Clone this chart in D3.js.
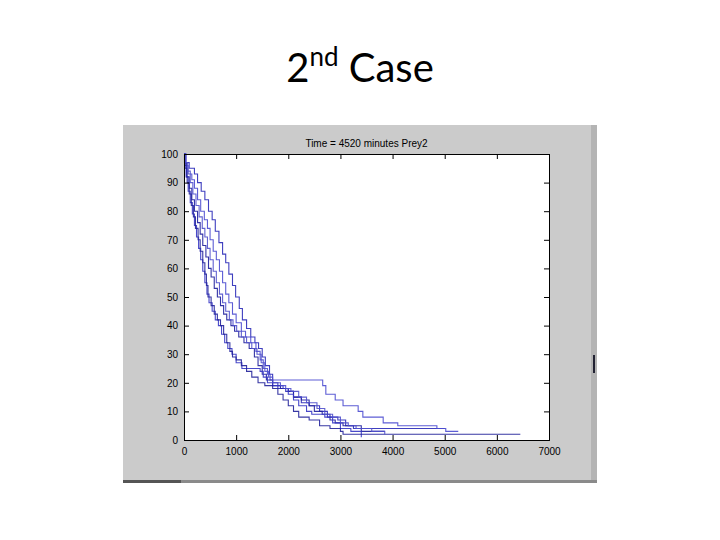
<!DOCTYPE html>
<html>
<head>
<meta charset="utf-8">
<script src="https://cdnjs.cloudflare.com/ajax/libs/d3/7.8.5/d3.min.js"></script>
<style>
  html, body { margin: 0; padding: 0; background: #ffffff; }
  svg { display: block; }
</style>
</head>
<body>
<svg id="chart" width="720" height="540"></svg>
<script>
// ---------- data ----------
const slideTitleMain = "2";
const slideTitleSup = "nd";
const slideTitleRest = " Case";
const plotTitle = "Time = 4520 minutes Prey2";
const xTicks = [0, 1000, 2000, 3000, 4000, 5000, 6000, 7000];
const yTicks = [0, 10, 20, 30, 40, 50, 60, 70, 80, 90, 100];

const run1 = [[0,100],[40,97],[100,95],[200,93],[260,90],[330,87],[400,84],[470,80],[540,77],[600,73],[670,69],[740,65],[800,62],[860,58],[930,54],[990,50],[1060,46],[1120,42],[1200,39],[1280,36],[1360,34],[1430,32],[1500,29],[1560,26],[1640,23],[1700,20],[1800,18],[1950,17],[2100,15],[2250,13],[2400,12],[2600,10],[2750,8],[2950,7],[3100,5],[3250,4],[5000,4]];
const run2 = [[0,100],[20,96],[80,93],[150,91],[200,88],[260,84],[320,80],[390,77],[450,74],[500,70],[560,66],[620,63],[680,59],[740,55],[800,51],[860,48],[930,44],[1000,41],[1100,38],[1180,36],[1280,34],[1380,31],[1460,28],[1520,25],[1600,23],[1650,21],[2620,21],[2660,19],[2720,16],[2900,14],[3050,12],[3340,10],[3430,8],[3820,6],[4100,5],[4850,4],[5020,3],[5260,3]];
const run3 = [[0,100],[10,97],[50,92],[100,88],[150,84],[200,80],[260,76],[310,72],[360,68],[420,64],[470,60],[520,57],[580,53],[640,50],[700,47],[760,44],[820,42],[900,40],[970,38],[1050,36],[1150,34],[1250,32],[1350,29],[1420,26],[1500,23],[1580,21],[1700,19],[1850,18],[2000,17],[2100,15],[2250,14],[2400,12],[2500,10],[2650,9],[2800,7],[2900,6],[3050,5],[3300,5],[3400,3],[3850,3]];
const run4 = [[0,100],[15,96],[40,92],[80,87],[120,83],[160,79],[200,75],[240,71],[280,67],[320,63],[360,59],[400,55],[440,51],[480,48],[540,45],[600,42],[660,40],[720,37],[780,34],[840,32],[920,30],[1000,27],[1110,25],[1460,24],[1520,22],[1600,20],[1700,19],[1900,18],[2000,16],[2100,14],[2200,12],[2350,10],[2450,9],[2700,8],[2850,6],[3000,4],[3200,3],[3400,1]];
const run5 = [[0,100],[20,95],[60,90],[100,86],[140,82],[180,78],[220,74],[270,70],[310,66],[360,62],[400,58],[430,54],[460,50],[520,47],[580,44],[640,42],[700,40],[760,37],[820,34],[880,31],[930,29],[1000,28],[1100,26],[1200,24],[1300,22],[1420,20],[1550,19],[1700,18],[1800,16],[1900,14],[2000,12],[2100,10],[2200,8],[2400,7],[2600,5],[2800,4],[3000,3],[3050,2],[6450,2]];
const run6 = [[0,100],[30,97],[70,94],[120,90],[170,86],[230,82],[290,78],[350,74],[400,71],[450,67],[500,63],[560,59],[620,55],[680,51],[740,48],[800,45],[870,42],[940,40],[1010,38],[1100,36],[1200,34],[1300,32],[1400,30],[1480,27],[1550,24],[1620,22],[1700,20],[1850,19],[1950,18],[2050,17],[2200,15],[2350,13],[2550,11],[2700,9],[2850,8],[3000,6],[3150,5],[3300,4],[3600,3],[3850,2]];

const runs = [run1, run2, run3, run4, run5, run6];
const runColors = ["#2a2ab8", "#4b4bd0", "#1e1e9c", "#3535c4", "#22229a", "#5050cc"];

// ---------- drawing ----------
const svg = d3.select("#chart");

// slide title
const title = svg.append("text")
  .attr("x", 360).attr("y", 82)
  .attr("text-anchor", "middle")
  .attr("font-family", "Lato, 'Open Sans', sans-serif")
  .attr("font-size", 40)
  .attr("fill", "#000");
title.append("tspan").text(slideTitleMain);
title.append("tspan").attr("dy", -16).attr("font-size", 26).text(slideTitleSup);
title.append("tspan").attr("dy", 16).text(slideTitleRest);

// figure window panel
svg.append("rect").attr("x", 123).attr("y", 125).attr("width", 474).attr("height", 358).attr("fill", "#cbcbcb");
svg.append("rect").attr("x", 591).attr("y", 125).attr("width", 6).attr("height", 358).attr("fill", "#b4b4b4");
svg.append("rect").attr("x", 123).attr("y", 480).attr("width", 474).attr("height", 3).attr("fill", "#8a8a8a");
svg.append("rect").attr("x", 123).attr("y", 480).attr("width", 58).attr("height", 3).attr("fill", "#555");
svg.append("rect").attr("x", 593).attr("y", 355).attr("width", 2).attr("height", 18).attr("fill", "#223");

const margin = {left: 184, top: 154, right: 549, bottom: 440};
const x = d3.scaleLinear().domain([0, 7000]).range([margin.left, margin.right]);
const y = d3.scaleLinear().domain([0, 100]).range([margin.bottom, margin.top]);

// plot area
svg.append("rect")
  .attr("x", x(0)).attr("y", y(100))
  .attr("width", x(7000) - x(0)).attr("height", y(0) - y(100))
  .attr("fill", "#fff");

// lines
const line = d3.line().x(d => x(d[0])).y(d => y(d[1])).curve(d3.curveStepAfter);
const g = svg.append("g");
runs.forEach((r, i) => {
  g.append("path")
    .attr("d", line(r))
    .attr("fill", "none")
    .attr("stroke", runColors[i])
    .attr("stroke-width", 1.1)
    .attr("opacity", 0.9);
});

// axes (MATLAB-style inward ticks)
const font = "'Liberation Sans', Arial, sans-serif";
const xAxis = svg.append("g").attr("transform", `translate(0,${y(0)})`)
  .call(d3.axisBottom(x).tickValues(xTicks).tickSize(-5).tickPadding(8).tickFormat(d3.format("d")));
const yAxis = svg.append("g").attr("transform", `translate(${x(0)},0)`)
  .call(d3.axisLeft(y).tickValues(yTicks).tickSize(-5).tickPadding(6).tickFormat(d3.format("d")));
const xTop = svg.append("g").attr("transform", `translate(0,${y(100)})`)
  .call(d3.axisTop(x).tickValues(xTicks).tickSize(-5).tickFormat(""));
const yRight = svg.append("g").attr("transform", `translate(${x(7000)},0)`)
  .call(d3.axisRight(y).tickValues(yTicks).tickSize(-5).tickFormat(""));

[xAxis, yAxis, xTop, yRight].forEach(a => {
  a.select(".domain").attr("stroke", "#000").attr("stroke-width", 1);
  a.selectAll(".tick line").attr("stroke", "#000");
  a.selectAll("text").attr("font-family", font).attr("font-size", 10).attr("fill", "#000");
});

// plot title
svg.append("text")
  .attr("x", (x(0) + x(7000)) / 2).attr("y", 147)
  .attr("text-anchor", "middle")
  .attr("font-family", font).attr("font-size", 10)
  .attr("fill", "#000")
  .text(plotTitle);
</script>
</body>
</html>
